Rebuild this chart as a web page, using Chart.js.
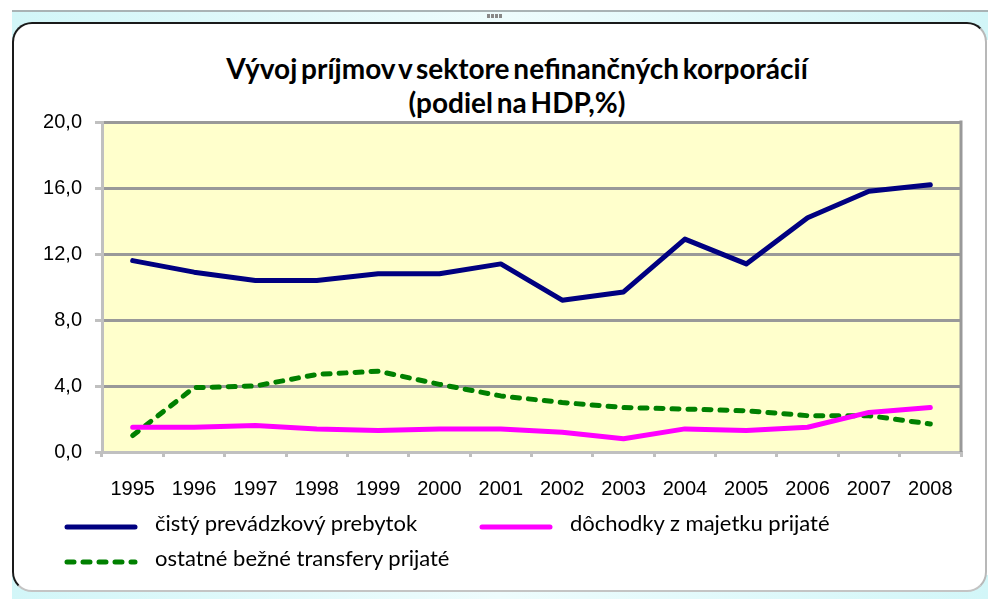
<!doctype html>
<html lang="sk">
<head>
<meta charset="utf-8">
<title>Vývoj príjmov v sektore nefinančných korporácií</title>
<style>
  html, body { margin: 0; padding: 0; background: #fff; }
  body { width: 988px; height: 599px; position: relative; overflow: hidden; font-family: Lato, "Liberation Sans", sans-serif; }
  .band { position: absolute; left: 12px; width: 976px; background: linear-gradient(to right, #d2f6f8, #eefcfd 50%, #d2f6f8); }
  .band.top { top: 10px; height: 28px; border-top: 2px solid #a9b3b5; }
  .band.bottom { top: 575px; height: 24px; }
  .handle { position: absolute; left: 487px; top: 14px; width: 16px; height: 4px;
            background: repeating-linear-gradient(to right, #888 0 3px, transparent 3px 4px); }
  .frame { position: absolute; left: 12px; top: 22px; width: 971px; height: 566px; background: #fff;
           border: 2px solid; border-color: #1a1a1a #b8b8b8 #c4c4c4 #1a1a1a; border-radius: 20px; }
  #title { position: absolute; left: 0; width: 1034px; top: 51px; text-align: center;
           font-weight: bold; font-size: 28px; line-height: 34px; word-spacing: -3px; color: #000; }
  #chart { position: absolute; left: 0; top: 0; }
  .legend { position: absolute; font-size: 22px; color: #000; line-height: 26px; }
  .legend .item { position: absolute; white-space: nowrap; }
  .legend svg { position: absolute; left: 0; top: 2px; }
  .legend span { position: absolute; left: 91px; top: -12px; }
</style>
</head>
<body>
<div class="band top"></div>
<div class="handle"></div>
<div class="band bottom"></div>
<div class="frame"></div>
<div id="title">Vývoj príjmov v sektore nefinančných korporácií<br>(podiel na HDP,%)</div>
<canvas id="chart" width="988" height="599"></canvas>
<div class="legend" id="legend"></div>

<script src="https://cdn.jsdelivr.net/npm/chart.js@4.4.0/dist/chart.umd.min.js"></script>
<script>
  // údaje odčítané z grafu (% HDP)
  const years = ['1995', '1996', '1997', '1998', '1999', '2000', '2001', '2002', '2003', '2004', '2005', '2006', '2007', '2008'];
  const cistyPrebytok = [11.6, 10.9, 10.4, 10.4, 10.8, 10.8, 11.4, 9.2, 9.7, 12.9, 11.4, 14.2, 15.8, 16.2];
  const dochodkyMajetok = [1.5, 1.5, 1.6, 1.4, 1.3, 1.4, 1.4, 1.2, 0.8, 1.4, 1.3, 1.5, 2.4, 2.7];
  const ostatneTransfery = [1.0, 3.9, 4.0, 4.7, 4.9, 4.1, 3.4, 3.0, 2.7, 2.6, 2.5, 2.2, 2.2, 1.7];
  const yTickLabels = ['0,0', '4,0', '8,0', '12,0', '16,0', '20,0'];

  const seriesNames = ['čistý prevádzkový prebytok', 'dôchodky z majetku prijaté', 'ostatné bežné transfery prijaté'];

  // pozadie plochy grafu + pravý okraj
  const plotArea = {
    id: 'plotArea',
    beforeDraw(chart) {
      const { ctx, chartArea: a } = chart;
      ctx.save();
      ctx.fillStyle = '#ffffcc';
      ctx.fillRect(a.left, a.top, a.right - a.left, a.bottom - a.top);
      ctx.restore();
    },
    beforeDatasetsDraw(chart) {
      const { ctx, chartArea: a } = chart;
      ctx.save();
      ctx.strokeStyle = '#999';
      ctx.lineWidth = 3;
      ctx.beginPath();
      ctx.moveTo(a.right, a.top - 1.5);
      ctx.lineTo(a.right, a.bottom);
      ctx.stroke();
      ctx.restore();
    }
  };

  const chart = new Chart(document.getElementById('chart'), {
    type: 'line',
    data: {
      labels: years,
      datasets: [
        { label: seriesNames[0], data: cistyPrebytok, borderColor: '#000080', borderWidth: 5 },
        { label: seriesNames[1], data: dochodkyMajetok, borderColor: '#ff00ff', borderWidth: 5 },
        { label: seriesNames[2], data: ostatneTransfery, borderColor: '#008000', borderWidth: 5, borderDash: [7, 9] }
      ]
    },
    options: {
      responsive: false,
      animation: false,
      devicePixelRatio: 1,
      layout: { padding: { left: 40, top: 122, right: 27, bottom: 47 } },
      elements: {
        point: { radius: 0, hoverRadius: 0 },
        line: { tension: 0, borderCapStyle: 'round', borderJoinStyle: 'round' }
      },
      plugins: { legend: { display: false }, tooltip: { enabled: false }, title: { display: false } },
      scales: {
        x: {
          offset: true,
          grid: { offset: true, drawOnChartArea: false, color: '#c0c0c0', lineWidth: 3, tickLength: 5 },
          border: { color: '#c0c0c0', width: 3 },
          ticks: { color: '#000', font: { family: '"Liberation Sans", Arial', size: 20 }, padding: 20, maxRotation: 0, autoSkip: false },
          afterFit(s) { s.height = 100; }
        },
        y: {
          min: 0, max: 20,
          ticks: {
            stepSize: 4, color: '#000', padding: 13,
            font: { family: '"Liberation Sans", Arial', size: 20 },
            callback: (v, i) => yTickLabels[i]
          },
          grid: { color: '#999', lineWidth: 3, tickColor: '#c0c0c0', tickLength: 7 },
          border: { color: '#c0c0c0', width: 3 },
          afterFit(s) { s.width = 62; }
        }
      }
    },
    plugins: [plotArea]
  });

  // legenda v dvoch stĺpcoch
  const legendPos = [[64, 527], [479, 527], [64, 562]];
  const legend = document.getElementById('legend');
  chart.data.datasets.forEach((ds, i) => {
    const item = document.createElement('div');
    item.className = 'item';
    item.style.left = legendPos[i][0] + 'px';
    item.style.top = (legendPos[i][1] - 5) + 'px';
    const dash = ds.borderDash ? ` stroke-dasharray="${ds.borderDash.join(' ')}"` : '';
    item.innerHTML = `<svg width="76" height="6"><line x1="3" y1="3" x2="71" y2="3" stroke="${ds.borderColor}" stroke-width="5" stroke-linecap="round"${dash}/></svg><span>${ds.label}</span>`;
    legend.appendChild(item);
  });
</script>
</body>
</html>
